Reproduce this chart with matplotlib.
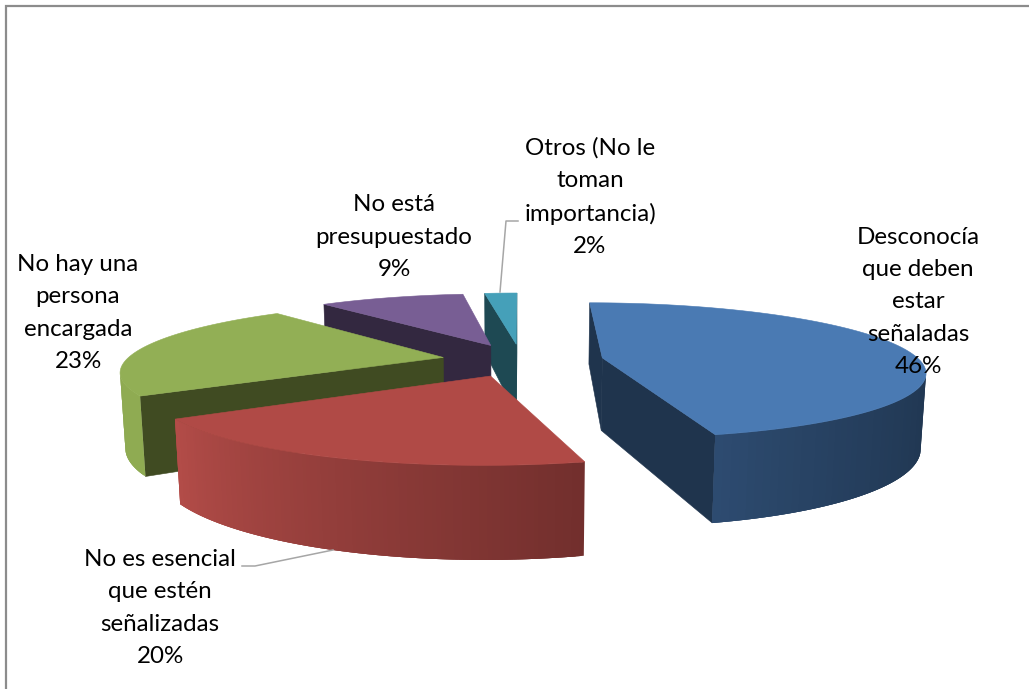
import numpy as np
import matplotlib
matplotlib.use("Agg")
import matplotlib.pyplot as plt
from matplotlib.patches import Polygon
from matplotlib.colors import to_rgb

labels = ["Desconocía\nque deben\nestar\nseñaladas\n46%",
          "No es esencial\nque estén\nseñalizadas\n20%",
          "No hay una\npersona\nencargada\n23%",
          "No está\npresupuestado\n9%",
          "Otros (No le\ntoman\nimportancia)\n2%"]
values = [46, 20, 23, 9, 2]

top_colors = ["#4A7AB3", "#B04A46", "#92AF55", "#785E94", "#45A0B9"]
wall_colors = ["#1F344D", "#6E2D2B", "#404B22", "#332840", "#1E4953"]
rim_start = ["#1E334C", "#722F2D", "#8FAB52", "#5E4A75", "#2E7A8C"]
rim_end = ["#2D4B70", "#B34C48", "#8CA850", "#5E4A75", "#2E7A8C"]
rim_gamma = [4.0, 1.0, 1.0, 1.0, 1.0]
draw_order = [4, 3, 2, 1, 0]
label_pos = [(918, 302), (160, 608), (78, 313), (394, 237), (590, 197)]
explode = [0.26, 0.25, 0.25, 0.25, 0.25]

X0, Y0, A, B, K, H, KZ = 521, 360, 317, 66, 0.185, 73, 0.013


def project(x, y, z=0.0):
    w = 1 + K * y + KZ * z
    return X0 + A * x / w, Y0 - B * y / (1 + K * y) + H * z / (1 + K * y)


def area(p):
    a = 0.0
    for i in range(len(p)):
        x1, y1 = p[i]
        x2, y2 = p[(i + 1) % len(p)]
        a += x1 * y2 - x2 * y1
    return a


fig = plt.figure(figsize=(10.29, 6.89), dpi=100)
ax = fig.add_axes([0, 0, 1, 1])
ax.set_xlim(0, 1029)
ax.set_ylim(689, 0)
ax.axis("off")
plt.rcParams["font.family"] = ["Lato", "DejaVu Sans"]

shares = np.array(values, float) / sum(values)
edges = np.concatenate([[0], np.cumsum(shares)]) * 2 * np.pi


def quad(pts, color, z, lw=0.4):
    ax.add_patch(Polygon(pts, closed=True, facecolor=color,
                         edgecolor=color if lw else "none", lw=lw, zorder=z))


z = 1
for i in draw_order:
    a0, a1 = edges[i], edges[i + 1]
    mid = (a0 + a1) / 2
    e = explode[i]
    ex, ey = e * np.sin(mid), e * np.cos(mid)
    th = np.linspace(a0, a1, 121)
    rx, ry = ex + np.sin(th), ey + np.cos(th)

    for a, flip in ((a0, False), (a1, True)):
        ox, oy = ex + np.sin(a), ey + np.cos(a)
        pts = [project(ex, ey), project(ox, oy), project(ox, oy, 1), project(ex, ey, 1)]
        sign = area(pts) * (-1 if flip else 1)
        if sign < 0:
            quad(pts, wall_colors[i], z)
    z += 1

    # rim strips overlap their neighbours so that no seams show
    c0, c1 = np.array(to_rgb(rim_start[i])), np.array(to_rgb(rim_end[i]))
    n = len(th)
    for k in range(n - 1):
        j = min(k + 3, n - 1)
        test = [project(rx[k], ry[k]), project(rx[k + 1], ry[k + 1]),
                project(rx[k + 1], ry[k + 1], 1), project(rx[k], ry[k], 1)]
        if area(test) < 0:
            t = (k / (n - 2)) ** rim_gamma[i]
            idx = range(k, j + 1)
            upper = [project(rx[m], ry[m]) for m in idx]
            lower = [project(rx[m], ry[m], 1) for m in reversed(idx)]
            quad(upper + lower, tuple(c0 + (c1 - c0) * t), z, lw=0)
    z += 1

    top = [project(ex, ey)] + [project(x, y) for x, y in zip(rx, ry)]
    quad(top, top_colors[i], z)
    z += 1

ax.plot([6, 6, 1029], [689, 6, 6], color="#8C8C8C", lw=1.6, zorder=z,
        solid_joinstyle="miter")
ax.plot([500, 506, 518], [292, 221, 221], color="#A6A6A6", lw=1.1, zorder=z)
ax.plot([242, 255, 333], [566, 566, 550], color="#A6A6A6", lw=1.1, zorder=z)

for lab, (x, y) in zip(labels, label_pos):
    ax.text(x, y, lab, ha="center", va="center", fontsize=17.4, linespacing=1.65,
            color="black", zorder=z + 1)

fig.savefig("out.png", dpi=100, facecolor="white")
